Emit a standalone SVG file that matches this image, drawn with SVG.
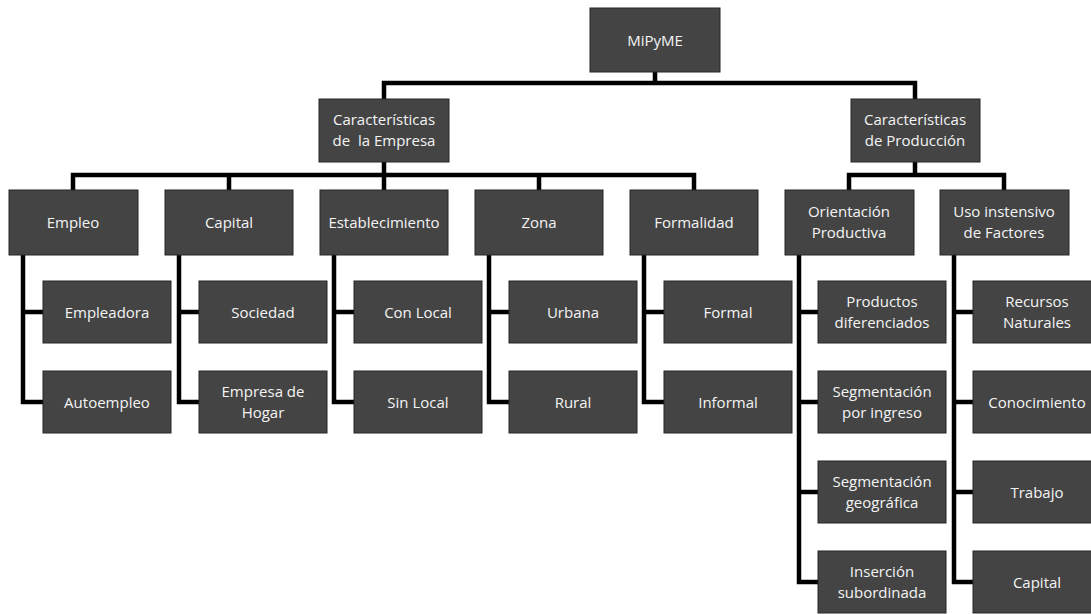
<svg xmlns="http://www.w3.org/2000/svg" width="1091" height="614" viewBox="0 0 1091 614">
  <defs>
    <style>
      .box { fill: #444444; stroke: #262626; stroke-width: 1; }
      .lbl { fill: #f4f4f4; font-family: "Open Sans", "Liberation Sans", sans-serif; font-size: 15px; text-anchor: middle; white-space: pre; }
      .wire { fill: none; stroke: #000; stroke-width: 4.5; stroke-linejoin: miter; stroke-linecap: square; }
    </style>
  </defs>
  <rect width="1091" height="614" fill="#ffffff"/>

  <!-- connectors -->
  <g id="connectors">
    <path class="wire" d="M655 72 V83 M384 83 H915 M384 83 V99 M915 83 V99"/>
    <path class="wire" d="M384 162 V175 M73 175 H694 M73 175 V190 M229 175 V190 M384 175 V190 M539 175 V190 M694 175 V190"/>
    <path class="wire" d="M915 162 V175 M849 175 H1004 M849 175 V190 M1004 175 V190"/>
    <path class="wire" d="M23 255 V402 H43 M23 312 H43"/>
    <path class="wire" d="M179 255 V402 H199 M179 312 H199"/>
    <path class="wire" d="M334 255 V402 H354 M334 312 H354"/>
    <path class="wire" d="M489 255 V402 H509 M489 312 H509"/>
    <path class="wire" d="M644 255 V402 H664 M644 312 H664"/>
    <path class="wire" d="M799 255 V582 H819 M799 312 H819 M799 402 H819 M799 492 H819"/>
    <path class="wire" d="M954 255 V582 H974 M954 312 H974 M954 402 H974 M954 492 H974"/>
  </g>

  <!-- root -->
  <g id="mipyme">
    <rect class="box" x="590" y="8" width="130" height="64"/>
    <text class="lbl" x="655" y="45.5">MiPyME</text>
  </g>

  <!-- first level -->
  <g id="caract-empresa">
    <rect class="box" x="319" y="99" width="130" height="63"/>
    <text class="lbl" x="384" y="125">Características</text>
    <text class="lbl" x="384" y="146">de  la Empresa</text>
  </g>
  <g id="caract-produccion">
    <rect class="box" x="851" y="99" width="129" height="63"/>
    <text class="lbl" x="915" y="125">Características</text>
    <text class="lbl" x="915" y="146">de Producción</text>
  </g>

  <!-- second level -->
  <g id="empleo">
    <rect class="box" x="9" y="190" width="129" height="65"/>
    <text class="lbl" x="73" y="228">Empleo</text>
  </g>
  <g id="capital">
    <rect class="box" x="165" y="190" width="128" height="65"/>
    <text class="lbl" x="229" y="228">Capital</text>
  </g>
  <g id="establecimiento">
    <rect class="box" x="320" y="190" width="128" height="65"/>
    <text class="lbl" x="384" y="228">Establecimiento</text>
  </g>
  <g id="zona">
    <rect class="box" x="475" y="190" width="128" height="65"/>
    <text class="lbl" x="539" y="228">Zona</text>
  </g>
  <g id="formalidad">
    <rect class="box" x="630" y="190" width="128" height="65"/>
    <text class="lbl" x="694" y="228">Formalidad</text>
  </g>
  <g id="orientacion">
    <rect class="box" x="785" y="190" width="129" height="65"/>
    <text class="lbl" x="849" y="217">Orientación</text>
    <text class="lbl" x="849" y="238">Productiva</text>
  </g>
  <g id="uso-intensivo">
    <rect class="box" x="940" y="190" width="129" height="65"/>
    <text class="lbl" x="1004" y="217">Uso instensivo</text>
    <text class="lbl" x="1004" y="238">de Factores</text>
  </g>

  <!-- third level -->
  <g id="empleadora">
    <rect class="box" x="43" y="281" width="128" height="62"/>
    <text class="lbl" x="107" y="317.5">Empleadora</text>
  </g>
  <g id="autoempleo">
    <rect class="box" x="43" y="371" width="128" height="62"/>
    <text class="lbl" x="107" y="407.5">Autoempleo</text>
  </g>
  <g id="sociedad">
    <rect class="box" x="199" y="281" width="128" height="62"/>
    <text class="lbl" x="263" y="317.5">Sociedad</text>
  </g>
  <g id="empresa-hogar">
    <rect class="box" x="199" y="371" width="128" height="62"/>
    <text class="lbl" x="263" y="396.5">Empresa de</text>
    <text class="lbl" x="263" y="417.5">Hogar</text>
  </g>
  <g id="con-local">
    <rect class="box" x="354" y="281" width="128" height="62"/>
    <text class="lbl" x="418" y="317.5">Con Local</text>
  </g>
  <g id="sin-local">
    <rect class="box" x="354" y="371" width="128" height="62"/>
    <text class="lbl" x="418" y="407.5">Sin Local</text>
  </g>
  <g id="urbana">
    <rect class="box" x="509" y="281" width="128" height="62"/>
    <text class="lbl" x="573" y="317.5">Urbana</text>
  </g>
  <g id="rural">
    <rect class="box" x="509" y="371" width="128" height="62"/>
    <text class="lbl" x="573" y="407.5">Rural</text>
  </g>
  <g id="formal">
    <rect class="box" x="664" y="281" width="128" height="62"/>
    <text class="lbl" x="728" y="317.5">Formal</text>
  </g>
  <g id="informal">
    <rect class="box" x="664" y="371" width="128" height="62"/>
    <text class="lbl" x="728" y="407.5">Informal</text>
  </g>
  <g id="productos-diferenciados">
    <rect class="box" x="818" y="281" width="128" height="62"/>
    <text class="lbl" x="882" y="306.5">Productos</text>
    <text class="lbl" x="882" y="327.5">diferenciados</text>
  </g>
  <g id="segmentacion-ingreso">
    <rect class="box" x="818" y="371" width="128" height="62"/>
    <text class="lbl" x="882" y="396.5">Segmentación</text>
    <text class="lbl" x="882" y="417.5">por ingreso</text>
  </g>
  <g id="segmentacion-geografica">
    <rect class="box" x="818" y="461" width="128" height="62"/>
    <text class="lbl" x="882" y="486.5">Segmentación</text>
    <text class="lbl" x="882" y="507.5">geográfica</text>
  </g>
  <g id="insercion-subordinada">
    <rect class="box" x="818" y="551" width="128" height="62"/>
    <text class="lbl" x="882" y="576.5">Inserción</text>
    <text class="lbl" x="882" y="597.5">subordinada</text>
  </g>
  <g id="recursos-naturales">
    <rect class="box" x="973" y="281" width="128" height="62"/>
    <text class="lbl" x="1037" y="306.5">Recursos</text>
    <text class="lbl" x="1037" y="327.5">Naturales</text>
  </g>
  <g id="conocimiento">
    <rect class="box" x="973" y="371" width="128" height="62"/>
    <text class="lbl" x="1037" y="407.5">Conocimiento</text>
  </g>
  <g id="trabajo">
    <rect class="box" x="973" y="461" width="128" height="62"/>
    <text class="lbl" x="1037" y="497.5">Trabajo</text>
  </g>
  <g id="capital-factor">
    <rect class="box" x="973" y="551" width="128" height="62"/>
    <text class="lbl" x="1037" y="587.5">Capital</text>
  </g>
</svg>
